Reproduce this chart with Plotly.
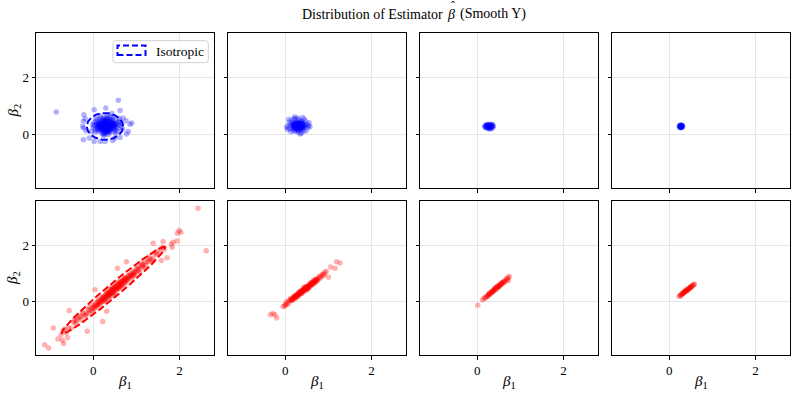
import numpy as np
import plotly.graph_objects as go

# ---------------- data ----------------
TITLE_LEFT = "Distribution of Estimator"
TITLE_SYMBOL = "<i>β</i>"
TITLE_HAT = "ˆ"
TITLE_RIGHT = "(Smooth Y)"
X_TICKS = [0, 2]
Y_TICKS = [0, 2]
X_RANGE = [-1.33, 2.80]
Y_RANGE = [-1.90, 3.56]
LEGEND_LABEL = "Isotropic"

# top row (isotropic, blue)
iso_n1 = [(-0.86,0.78),(0.58,1.19),(0.02,0.86),(0.29,0.92),(0.62,0.83),(0.43,0.72),(-0.22,0.68),(-0.19,0.54),
          (-0.23,0.45),(-0.25,0.27),(-0.22,0.21),(-0.17,0.12),(-0.23,-0.20),(0.02,-0.26),(0.16,-0.26),(0.27,-0.26),
          (0.45,-0.23),(0.77,0.00),(0.81,0.09),(0.76,0.47),(0.85,0.35),(0.89,0.39),(0.69,0.57),(-0.09,-0.14),
          (0.62,-0.12),(0.50,-0.14),
          (0.30,0.27),(0.22,0.31),(0.38,0.22),(0.27,0.40),(0.35,0.15),(0.18,0.20),(0.42,0.33),(0.12,0.28),(0.25,0.12),(0.33,0.45),
          (0.45,0.18),(0.08,0.35),(0.20,0.05),(0.40,0.48),(0.15,0.42),(0.50,0.28),(0.28,0.02),(0.05,0.15),(0.55,0.38),(0.36,0.55),
          (0.10,0.50),(0.48,0.08),(0.02,0.30),(0.58,0.20),(0.24,0.58),(0.32,0.35),(0.26,0.22),(0.36,0.30),(0.20,0.36),(0.44,0.40),
          (0.14,0.10),(0.52,0.50),(0.30,0.60),(0.06,0.44),(0.60,0.32),(0.38,0.05),(0.00,0.22),(0.62,0.45),(0.16,0.56),(0.46,0.58),
          (0.34,-0.02),(0.22,0.00),(0.56,0.10),(0.04,0.06),(0.64,0.28),(0.28,0.48),(0.40,0.12),(0.18,0.30),(0.32,0.18),(0.24,0.26),
          (0.42,0.25),(0.12,0.38),(0.36,0.42),(0.28,0.32),(0.48,0.35),(0.08,0.22),(0.54,0.24),(0.20,0.46),(0.44,0.52),(0.26,0.08),
          (0.58,0.42),(0.02,0.40),(0.34,0.62),(0.14,0.18),(0.50,0.14),(0.66,0.36),(-0.02,0.34),(0.38,0.36),(0.30,0.10),(0.22,0.52),
          (0.46,0.26),(0.10,0.12),(0.60,0.55),(0.16,0.64),(0.40,0.62),(0.52,0.04),(0.06,0.56),(0.68,0.18),(0.24,-0.06),(-0.04,0.10),
          (0.33,0.25),(0.27,0.29),(0.31,0.33),(0.29,0.21),(0.35,0.27),(0.25,0.35),(0.37,0.19),(0.21,0.24),(0.39,0.31),(0.23,0.16),
          (0.30,0.30),(0.28,0.25),(0.32,0.28),(0.26,0.33),(0.34,0.22),(0.24,0.20),(0.36,0.34),(0.22,0.28),(0.38,0.26),(0.30,0.38),
          (0.20,0.30),(0.40,0.20),(0.28,0.14),(0.32,0.40),(0.18,0.24),(0.42,0.30),(0.26,0.44),(0.34,0.10),(0.16,0.34),(0.44,0.36),
          (0.22,0.40),(0.38,0.44),(0.14,0.24),(0.46,0.22),(0.30,0.50),(0.28,0.06),(0.12,0.32),(0.48,0.28),(0.20,0.14),(0.40,0.40),
          (0.10,0.20),(0.50,0.40),(0.24,0.50),(0.36,0.12),(0.16,0.46),(0.44,0.46),(0.08,0.28),(0.52,0.32),(0.32,0.54),(0.26,0.00),
          (0.31,0.26),(0.29,0.31),(0.27,0.24),(0.33,0.29),(0.25,0.29),(0.35,0.24),(0.23,0.26),(0.37,0.31),(0.21,0.32),(0.39,0.28),
          (0.30,0.18),(0.28,0.36),(0.34,0.34),(0.26,0.18),(0.32,0.14),(0.24,0.38),(0.36,0.38),(0.22,0.20),(0.40,0.22),(0.18,0.26),
          (0.42,0.36),(0.20,0.40),(0.30,0.44),(0.30,0.08),(0.44,0.28),(0.16,0.28),(0.38,0.16),(0.22,0.14),(0.34,0.46),(0.26,0.42),
          (0.46,0.32),(0.14,0.32),(0.40,0.44),(0.18,0.16),(0.48,0.20),(0.12,0.22),(0.36,0.06),(0.24,0.46),(0.50,0.36),(0.10,0.38)]
iso_n2 = [(0.30,0.27),(0.24,0.30),(0.36,0.23),(0.28,0.36),(0.33,0.17),(0.20,0.22),(0.40,0.32),(0.16,0.29),(0.26,0.15),(0.34,0.40),
          (0.44,0.22),(0.12,0.34),(0.22,0.10),(0.38,0.44),(0.18,0.42),(0.46,0.30),(0.30,0.06),(0.10,0.20),(0.50,0.35),(0.32,0.50),
          (0.14,0.48),(0.42,0.10),(0.06,0.28),(0.52,0.22),(0.24,0.52),(0.30,0.34),(0.27,0.23),(0.35,0.30),(0.21,0.35),(0.41,0.39),
          (0.17,0.14),(0.47,0.45),(0.29,0.56),(0.09,0.42),(0.54,0.30),(0.37,0.04),(0.05,0.16),(0.55,0.40),(0.20,0.55),(0.44,0.52),
          (0.32,0.28),(0.26,0.26),(0.31,0.21),(0.28,0.31),(0.34,0.25),(0.23,0.27),(0.37,0.35),(0.19,0.32),(0.39,0.17),(0.25,0.40),
          (0.03,0.24),(0.57,0.26),(0.40,0.58),(0.13,0.08),(0.48,0.12),(0.08,0.52),(0.35,0.00),(0.22,0.60),
          (0.29,0.29),(0.31,0.25),(0.27,0.27),(0.33,0.31),(0.25,0.24),(0.35,0.26),(0.29,0.33),(0.23,0.30),(0.37,0.29),(0.31,0.35),
          (0.27,0.20),(0.21,0.27),(0.33,0.22),(0.25,0.33),(0.39,0.25),(0.29,0.19),(0.35,0.34),(0.19,0.25),(0.41,0.30),(0.27,0.37),
          (0.22,0.22),(0.38,0.38),(0.30,0.30),(0.32,0.26),(0.26,0.31),(0.34,0.36),(0.24,0.36),(0.36,0.20),(0.28,0.24),(0.30,0.38),
          (0.30,0.28),(0.28,0.26),(0.32,0.30),(0.26,0.29),(0.34,0.27),(0.24,0.25),(0.36,0.32),(0.22,0.31),(0.38,0.27),(0.30,0.22),
          (0.28,0.34),(0.33,0.19),(0.25,0.21),(0.35,0.37),(0.21,0.38),(0.40,0.21),(0.18,0.20),(0.42,0.35),(0.27,0.42),(0.31,0.13),
          (0.23,0.34),(0.37,0.24),(0.29,0.37),(0.33,0.33),(0.19,0.29),(0.41,0.27),(0.26,0.12),(0.36,0.43),(0.16,0.36),(0.44,0.29)]
iso_n3 = [(0.27,0.27),(0.22,0.29),(0.32,0.25),(0.25,0.33),(0.30,0.21),(0.19,0.25),(0.35,0.30),(0.24,0.21),(0.29,0.32),(0.21,0.32),
          (0.33,0.34),(0.36,0.24),(0.18,0.28),(0.26,0.19),(0.31,0.29),(0.23,0.25),(0.28,0.35),(0.34,0.20),(0.20,0.21),(0.37,0.28),
          (0.26,0.30),(0.29,0.24),(0.24,0.27),(0.31,0.27),(0.27,0.22),(0.22,0.34),(0.35,0.33),(0.17,0.27),(0.30,0.18),(0.25,0.24),
          (0.32,0.31),(0.28,0.28),(0.23,0.30)]
iso_n4 = [(0.27,0.27),(0.25,0.28),(0.29,0.26),(0.26,0.30),(0.28,0.24),(0.24,0.26),(0.30,0.28),(0.26,0.24),(0.28,0.30),(0.25,0.31),
          (0.29,0.23),(0.23,0.28),(0.31,0.27),(0.27,0.32),(0.27,0.22),(0.24,0.23),(0.30,0.31),(0.25,0.25),(0.29,0.29),(0.28,0.27),
          (0.26,0.27),(0.27,0.29)]

# bottom row (correlated, red)
cor_n1 = [(2.43,3.30),(2.62,1.80),(1.99,2.51),(1.95,2.42),(2.03,2.45),(1.94,2.14),(1.85,2.10),(1.81,2.03),(1.83,1.92),
          (1.62,2.12),(1.71,1.55),(1.58,1.45),(1.39,2.06),(-1.13,-1.54),(-1.04,-1.65),(-0.69,-1.49),(-0.72,-1.38),
          (-0.60,-1.29),(-0.93,-0.94),(-0.82,-1.33),(-0.14,-1.06),(0.22,-0.71),(-0.56,-0.32),(0.56,1.18),(0.77,1.41),
          (0.04,0.41),(0.31,-0.35),
          (0.47,0.45),(0.52,0.39),(0.41,0.42),(0.35,0.12),(0.58,0.61),(0.63,0.55),(0.28,0.22),(0.44,0.21),(0.55,0.56),(0.39,0.33),
          (0.71,0.81),(0.66,0.53),(0.22,0.03),(0.18,0.12),(0.31,0.31),(0.49,0.27),(0.60,0.70),(0.75,0.65),(0.12,-0.09),(0.36,0.36),
          (0.83,0.93),(0.88,0.80),(0.95,1.04),(0.05,-0.08),(0.02,-0.27),(0.26,0.00),(0.43,0.50),(0.57,0.43),(0.68,0.74),(0.79,0.76),
          (-0.05,-0.31),(-0.12,-0.28),(0.09,0.01),(0.15,-0.12),(1.02,1.17),(1.08,1.03),(0.92,0.88),(0.99,1.15),(0.34,0.24),(0.51,0.52),
          (1.15,1.31),(1.21,1.29),(1.12,1.36),(1.27,1.52),(1.33,1.45),(1.18,1.19),(1.42,1.69),(1.47,1.66),(1.38,1.52),(1.55,1.83),
          (-0.22,-0.43),(-0.28,-0.66),(-0.35,-0.58),(-0.41,-0.78),(-0.18,-0.51),(-0.31,-0.52),(-0.46,-0.74),(-0.52,-0.95),(-0.38,-0.63),(-0.25,-0.39),
          (-0.58,-0.93),(-0.63,-1.12),(-0.66,-0.98),(-0.08,-0.19),(-0.02,-0.36),(0.07,-0.18),(0.13,0.06),(0.24,0.17),(0.29,0.05),(0.38,0.18),
          (0.46,0.33),(0.53,0.50),(0.62,0.67),(0.69,0.58),(0.74,0.84),(0.81,0.83),(0.86,0.97),(0.91,1.05),(0.97,0.93),(1.05,1.25),
          (0.40,0.29),(0.45,0.44),(0.50,0.37),(0.56,0.49),(0.61,0.60),(0.33,0.26),(0.27,0.13),(0.20,0.09),(0.16,0.02),(0.11,-0.04),
          (0.64,0.72),(0.72,0.69),(0.77,0.73),(0.85,0.88),(0.93,1.00),(1.00,1.06),(1.10,1.21),(0.42,0.36),(0.48,0.47),(0.54,0.45),
          (0.30,0.25),(0.25,0.06),(0.37,0.31),(0.59,0.52),(0.65,0.65),(0.70,0.76),(0.76,0.79),(0.03,-0.15),(-0.03,-0.22),(-0.15,-0.44),
          (1.25,1.40),(1.30,1.58),(1.36,1.48),(1.45,1.75),(1.52,1.70),(1.60,1.92),(1.64,1.83),(-0.70,-1.05),(-0.75,-1.19),(-0.44,-0.66),
          (0.44,0.41),(0.47,0.30),(0.52,0.58),(0.56,0.63),(0.39,0.40),(0.33,0.15),(0.60,0.48),(0.67,0.71),(0.23,0.16),(0.19,-0.02),
          (0.08,-0.14),(0.00,-0.13),(-0.10,-0.40),(0.14,0.00),(0.87,0.91),(0.94,0.95),(0.80,0.90),(1.04,1.09),(1.13,1.28),(0.73,0.71),
          (0.45,0.39),(0.50,0.46),(0.40,0.28),(0.55,0.52),(0.35,0.22),(0.60,0.58),(0.30,0.16),(0.65,0.62),(0.25,0.13),(0.70,0.70),
          (0.20,0.00),(0.75,0.82),(0.15,-0.06),(0.80,0.80),(0.10,-0.12),(0.85,0.93),(0.05,-0.20),(0.90,0.94),(0.00,-0.24),(0.95,1.01),
          (0.43,0.30),(0.48,0.52),(0.38,0.26),(0.58,0.46),(0.33,0.29),(0.63,0.66),(0.28,0.08),(0.68,0.60),(0.23,0.12),(0.73,0.80),
          (1.05,1.13),(1.15,1.24),(-0.10,-0.32),(-0.20,-0.50),(1.20,1.40),(-0.30,-0.55),(1.30,1.42),(-0.40,-0.70),(0.62,0.57),(0.37,0.25)]
cor_n2 = [(1.19,1.41),(1.27,1.36),(1.15,1.18),(1.00,0.86),(1.05,1.22),(-0.24,-0.47),(-0.20,-0.59),(-0.29,-0.43),(-0.35,-0.47),
          (0.44,0.45),(0.40,0.33),(0.48,0.42),(0.52,0.55),(0.36,0.36),(0.31,0.19),(0.56,0.62),(0.60,0.55),(0.27,0.26),(0.23,0.09),
          (0.64,0.70),(0.68,0.66),(0.72,0.80),(0.19,0.17),(0.15,0.02),(0.11,0.07),(0.33,0.31),(0.46,0.52),(0.50,0.41),(0.54,0.48),
          (0.38,0.40),(0.42,0.36),(0.29,0.23),(0.25,0.14),(0.58,0.60),(0.62,0.67),(0.76,0.78),(0.80,0.90),(0.84,0.88),(0.07,-0.05),
          (0.03,-0.01),(-0.02,-0.16),(0.05,-0.11),(0.88,0.97),(0.92,1.03),(0.70,0.68),(0.66,0.76),(0.47,0.46),(0.35,0.27),(0.21,0.16),
          (0.43,0.49),(0.39,0.30),(0.53,0.47),(0.57,0.57),(0.45,0.38),(0.32,0.33),(0.61,0.64),(0.26,0.20),(0.17,0.06),(0.13,0.10),
          (0.74,0.72),(0.78,0.86),(0.82,0.83),(0.09,0.03),(0.01,-0.08),(0.49,0.53),(0.37,0.28),(0.55,0.52),(0.41,0.42),(0.30,0.28),
          (0.63,0.60),(0.67,0.72),(0.71,0.77),(0.20,0.11),(0.24,0.21),(0.14,0.04),(0.51,0.50),(0.34,0.34),(0.59,0.66),(0.45,0.47),
          (0.28,0.18),(0.22,0.18),(0.52,0.44),(0.40,0.39),(0.65,0.63),(0.86,0.95),(0.90,0.94),(0.95,1.06),(-0.05,-0.18),(0.00,-0.14),
          (0.42,0.40),(0.46,0.44),(0.38,0.35),(0.50,0.50),(0.34,0.30),(0.54,0.54),(0.30,0.24),(0.58,0.58),(0.26,0.21),(0.62,0.63),
          (0.22,0.15),(0.66,0.68),(0.18,0.11),(0.70,0.73),(0.14,0.06),(0.74,0.78),(0.44,0.41),(0.48,0.48),(0.36,0.33),(0.56,0.56),
          (0.32,0.27),(0.60,0.61),(0.28,0.23),(0.64,0.66),(0.40,0.37),(0.52,0.52),(0.24,0.18),(0.68,0.71),(0.20,0.13),(0.72,0.76)]
cor_n3 = [(0.42,0.45),(0.38,0.38),(0.46,0.52),(0.50,0.51),(0.34,0.36),(0.30,0.27),(0.54,0.62),(0.58,0.63),(0.26,0.25),(0.22,0.17),
          (0.62,0.72),(0.66,0.74),(0.18,0.11),(0.15,0.12),(0.12,0.05),(0.40,0.46),(0.44,0.43),(0.48,0.56),(0.36,0.35),(0.32,0.33),
          (0.52,0.57),(0.56,0.60),(0.60,0.69),(0.28,0.29),(0.24,0.19),(0.64,0.70),(0.68,0.80),(0.20,0.16),(0.45,0.50),(0.35,0.33),
          (0.41,0.40),(0.49,0.53),(0.53,0.58),(0.39,0.43),(0.29,0.26),(0.57,0.66),(0.47,0.49),(0.33,0.31),(0.27,0.24),(0.61,0.68),
          (0.43,0.48),(0.37,0.39),(0.51,0.55),(0.55,0.64),(0.25,0.21),(0.70,0.80),(0.72,0.85),(0.72,0.73),(0.74,0.88),(0.01,-0.14)]
cor_n4 = [(0.40,0.39),(0.37,0.36),(0.43,0.43),(0.46,0.47),(0.34,0.31),(0.31,0.28),(0.49,0.50),(0.52,0.54),(0.28,0.23),(0.25,0.21),
          (0.55,0.57),(0.42,0.40),(0.38,0.37),(0.44,0.45),(0.33,0.32),(0.29,0.26),(0.50,0.52),(0.53,0.55),(0.36,0.33),(0.47,0.46),
          (0.39,0.41),(0.41,0.38),(0.45,0.44),(0.35,0.34),(0.30,0.27),(0.48,0.49),(0.26,0.20),(0.57,0.60),(0.23,0.18),(0.58,0.61),
          (0.32,0.29),(0.51,0.51)]

PANELS = [[iso_n1, iso_n2, iso_n3, iso_n4], [cor_n1, cor_n2, cor_n3, cor_n4]]
ROW_COLORS = ["#0000ff", "#ff0000"]

# confidence ellipses drawn in the first column: center, semi-axes, angle (deg)
ELL_CENTER = [(0.27, 0.27), (0.47, 0.40)]
ELL_AXES = [(0.42, 0.47), (1.95, 0.18)]
ELL_ANGLE = [0.0, 52.2]

# ---------------- layout geometry (pixels) ----------------
W, H = 797, 397
L, R, T, B = 36, 7, 33, 42
PW, PH = W - L - R, H - T - B
COLS_PX = [(36, 214), (228, 406), (420, 598), (612, 790)]
ROWS_PX = [(33, 188), (201, 355)]
FONT = "Liberation Serif"


def px_x(p):
    return (p - L) / PW


def px_y(p):
    return (H - B - p) / PH


fig = go.Figure()
layout = dict(
    width=W, height=H, margin=dict(l=L, r=R, t=T, b=B),
    paper_bgcolor="white", plot_bgcolor="white", showlegend=False,
    font=dict(family=FONT, size=13, color="black"),
)

for r in range(2):
    for c in range(4):
        k = r * 4 + c + 1
        xa = "xaxis" if k == 1 else f"xaxis{k}"
        ya = "yaxis" if k == 1 else f"yaxis{k}"
        xr = "x" if k == 1 else f"x{k}"
        yr = "y" if k == 1 else f"y{k}"
        common = dict(showline=True, linecolor="black", linewidth=1, mirror=True,
                      ticks="outside", ticklen=3.5, tickwidth=1, tickcolor="black",
                      showgrid=True, gridcolor="#e6e6e6", gridwidth=0.8, zeroline=False,
                      tickfont=dict(family=FONT, size=13, color="black"))
        layout[xa] = dict(common, domain=[px_x(COLS_PX[c][0]), px_x(COLS_PX[c][1])],
                          range=X_RANGE, tickvals=X_TICKS, ticktext=[str(v) for v in X_TICKS],
                          showticklabels=(r == 1), anchor=yr)
        layout[ya] = dict(common, domain=[px_y(ROWS_PX[r][1]), px_y(ROWS_PX[r][0])],
                          range=Y_RANGE, tickvals=Y_TICKS, ticktext=[str(v) for v in Y_TICKS],
                          showticklabels=(c == 0), anchor=xr)
        pts = PANELS[r][c]
        fig.add_trace(go.Scatter(
            x=[p[0] for p in pts], y=[p[1] for p in pts], mode="markers",
            marker=dict(color=ROW_COLORS[r], size=5.5, opacity=0.3, line=dict(width=0)),
            xaxis=xr, yaxis=yr, hoverinfo="skip"))
        if c == 0:
            t = np.linspace(0, 2 * np.pi, 200)
            a, b = ELL_AXES[r]
            th = np.deg2rad(ELL_ANGLE[r])
            cx, cy = ELL_CENTER[r]
            ex = cx + a * np.cos(t) * np.cos(th) - b * np.sin(t) * np.sin(th)
            ey = cy + a * np.cos(t) * np.sin(th) + b * np.sin(t) * np.cos(th)
            fig.add_trace(go.Scatter(x=ex, y=ey, mode="lines",
                                     line=dict(color=ROW_COLORS[r], width=2, dash="7px,3px"),
                                     xaxis=xr, yaxis=yr, hoverinfo="skip"))

fig.update_layout(**layout)

tfont = dict(family=FONT, size=14, color="black")
annotations = [
    dict(text=TITLE_LEFT, x=px_x(445), y=px_y(14), xref="paper", yref="paper", showarrow=False,
         font=tfont, xanchor="right", yanchor="middle"),
    dict(text=TITLE_SYMBOL, x=px_x(451), y=px_y(14), xref="paper", yref="paper", showarrow=False,
         font=tfont, xanchor="center", yanchor="middle"),
    dict(text=TITLE_HAT, x=px_x(452.5), y=px_y(6.5), xref="paper", yref="paper", showarrow=False,
         font=dict(family=FONT, size=12, color="black"), xanchor="center", yanchor="middle"),
    dict(text=TITLE_RIGHT, x=px_x(458), y=px_y(14), xref="paper", yref="paper", showarrow=False,
         font=tfont, xanchor="left", yanchor="middle"),
]
for c in range(4):
    annotations.append(dict(text="<i>β</i><sub>1</sub>", x=px_x((COLS_PX[c][0] + COLS_PX[c][1]) / 2),
                            y=px_y(382), xref="paper", yref="paper", showarrow=False,
                            font=dict(family=FONT, size=15), xanchor="center", yanchor="middle"))
for r in range(2):
    annotations.append(dict(text="<i>β</i><sub>2</sub>", x=px_x(13),
                            y=px_y((ROWS_PX[r][0] + ROWS_PX[r][1]) / 2), xref="paper", yref="paper",
                            showarrow=False, textangle=-90, font=dict(family=FONT, size=15),
                            xanchor="center", yanchor="middle"))
annotations.append(dict(text=LEGEND_LABEL, x=px_x(154), y=px_y(51.5), xref="paper", yref="paper",
                        showarrow=False, font=dict(family=FONT, size=13.5), xanchor="left", yanchor="middle"))


def rounded_box(x0, y0, x1, y1, rad):
    X = lambda p: f"{px_x(p):.5f}"
    Y = lambda p: f"{px_y(p):.5f}"
    return (f"M{X(x0+rad)},{Y(y0)} L{X(x1-rad)},{Y(y0)} Q{X(x1)},{Y(y0)} {X(x1)},{Y(y0+rad)} "
            f"L{X(x1)},{Y(y1-rad)} Q{X(x1)},{Y(y1)} {X(x1-rad)},{Y(y1)} "
            f"L{X(x0+rad)},{Y(y1)} Q{X(x0)},{Y(y1)} {X(x0)},{Y(y1-rad)} "
            f"L{X(x0)},{Y(y0+rad)} Q{X(x0)},{Y(y0)} {X(x0+rad)},{Y(y0)} Z")


shapes = [
    dict(type="path", xref="paper", yref="paper", path=rounded_box(113, 40.7, 208.3, 62.7, 3),
         fillcolor="rgba(255,255,255,0.8)", line=dict(color="#d0d0d0", width=1)),
    dict(type="rect", xref="paper", yref="paper", x0=px_x(117.5), x1=px_x(145.5), y0=px_y(55), y1=px_y(45.5),
         line=dict(color="#0000ff", width=2, dash="6px,3px"), fillcolor="rgba(0,0,0,0)"),
]
fig.update_layout(annotations=annotations, shapes=shapes)
fig.write_html("out.html", config={"displayModeBar": False},
               post_script="document.body.style.margin='0px';document.body.style.padding='0px';")
